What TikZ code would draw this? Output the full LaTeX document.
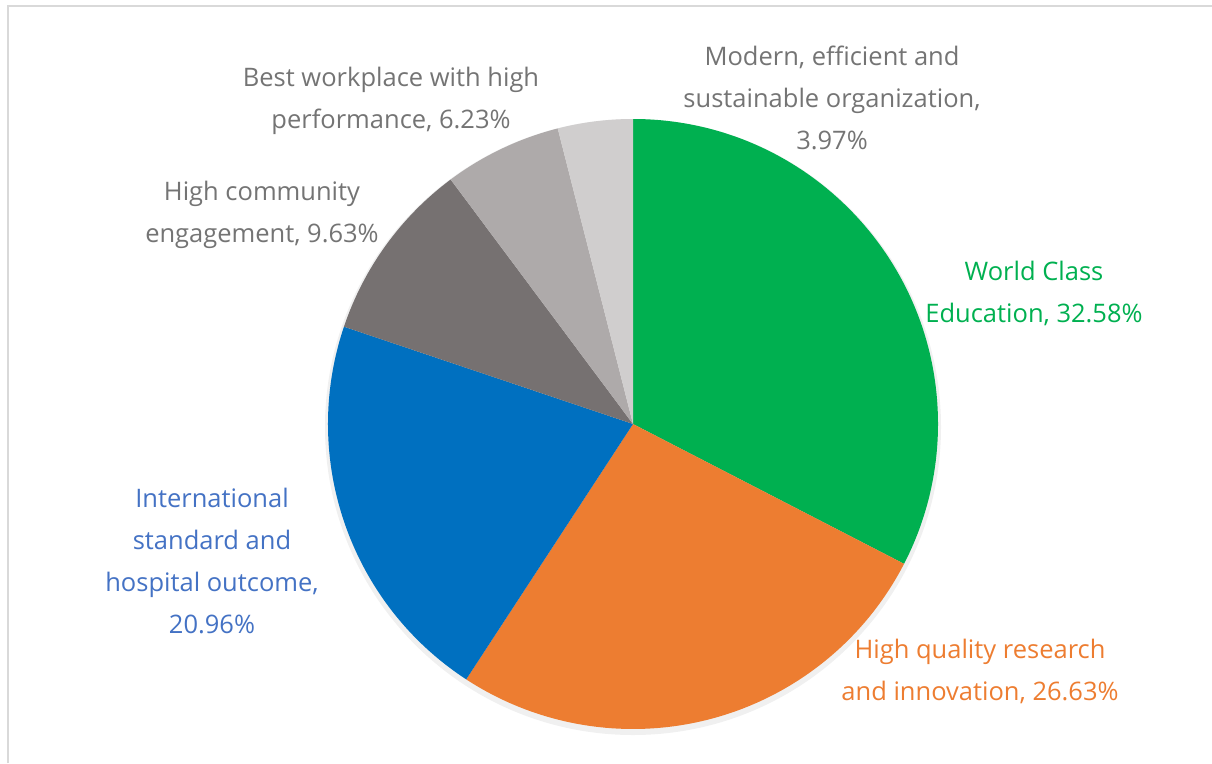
\documentclass[tikz,border=0pt]{standalone}
\usepackage{fontspec}
\setmainfont{Open Sans}
\usetikzlibrary{positioning}

\definecolor{edugreen}{HTML}{00B050}
\definecolor{resorange}{HTML}{ED7D31}
\definecolor{hospblue}{HTML}{0070C0}
\definecolor{hosptext}{HTML}{4472C4}
\definecolor{commgray}{HTML}{767171}
\definecolor{workgray}{HTML}{AEAAAA}
\definecolor{orggray}{HTML}{D0CECE}
\definecolor{labelgray}{HTML}{747474}
\definecolor{framegray}{HTML}{D9D9D9}

\tikzset{
  lbl/.style={align=center, inner sep=0pt, font=\fontsize{25.5}{42}\selectfont}
}

\begin{document}
\begin{tikzpicture}[x=1pt,y=-1pt]
  \useasboundingbox (0,0) rectangle (1212,763);
  \draw[framegray, line width=2pt] (8,763) -- (8,6) -- (1212,6);

  % slices, clockwise from the top
  \begin{scope}[shift={(633,424)}, y=1pt]
    \fill[gray!12] (0,-3) circle[radius=308];
    \foreach \col/\from/\to in {edugreen/90/-27.288, resorange/-27.288/-123.156,
        hospblue/-123.156/-198.612, commgray/-198.612/-233.28,
        workgray/-233.28/-255.708, orggray/-255.708/-270}
      \fill[\col] (0,0) -- (\from:305) arc[start angle=\from, end angle=\to, radius=305] -- cycle;
  \end{scope}

  \node[lbl, text=labelgray] (org) at (832,98) {Modern, efficient and\\sustainable organization,\\3.97\%};
  \node[lbl, text=edugreen] (edu) at (1034,293) {World Class\\Education, 32.58\%};
  \node[lbl, text=resorange] (res) at (980,671) {High quality research\\and innovation, 26.63\%};
  \node[lbl, text=hosptext] (hosp) at (212,561) {International\\standard and\\hospital outcome,\\20.96\%};
  \node[lbl, text=labelgray] (comm) at (262,215) {High community\\engagement, 9.63\%};
  \node[lbl, text=labelgray] (work) at (391,101) {Best workplace with high\\performance, 6.23\%};
\end{tikzpicture}
\end{document}
